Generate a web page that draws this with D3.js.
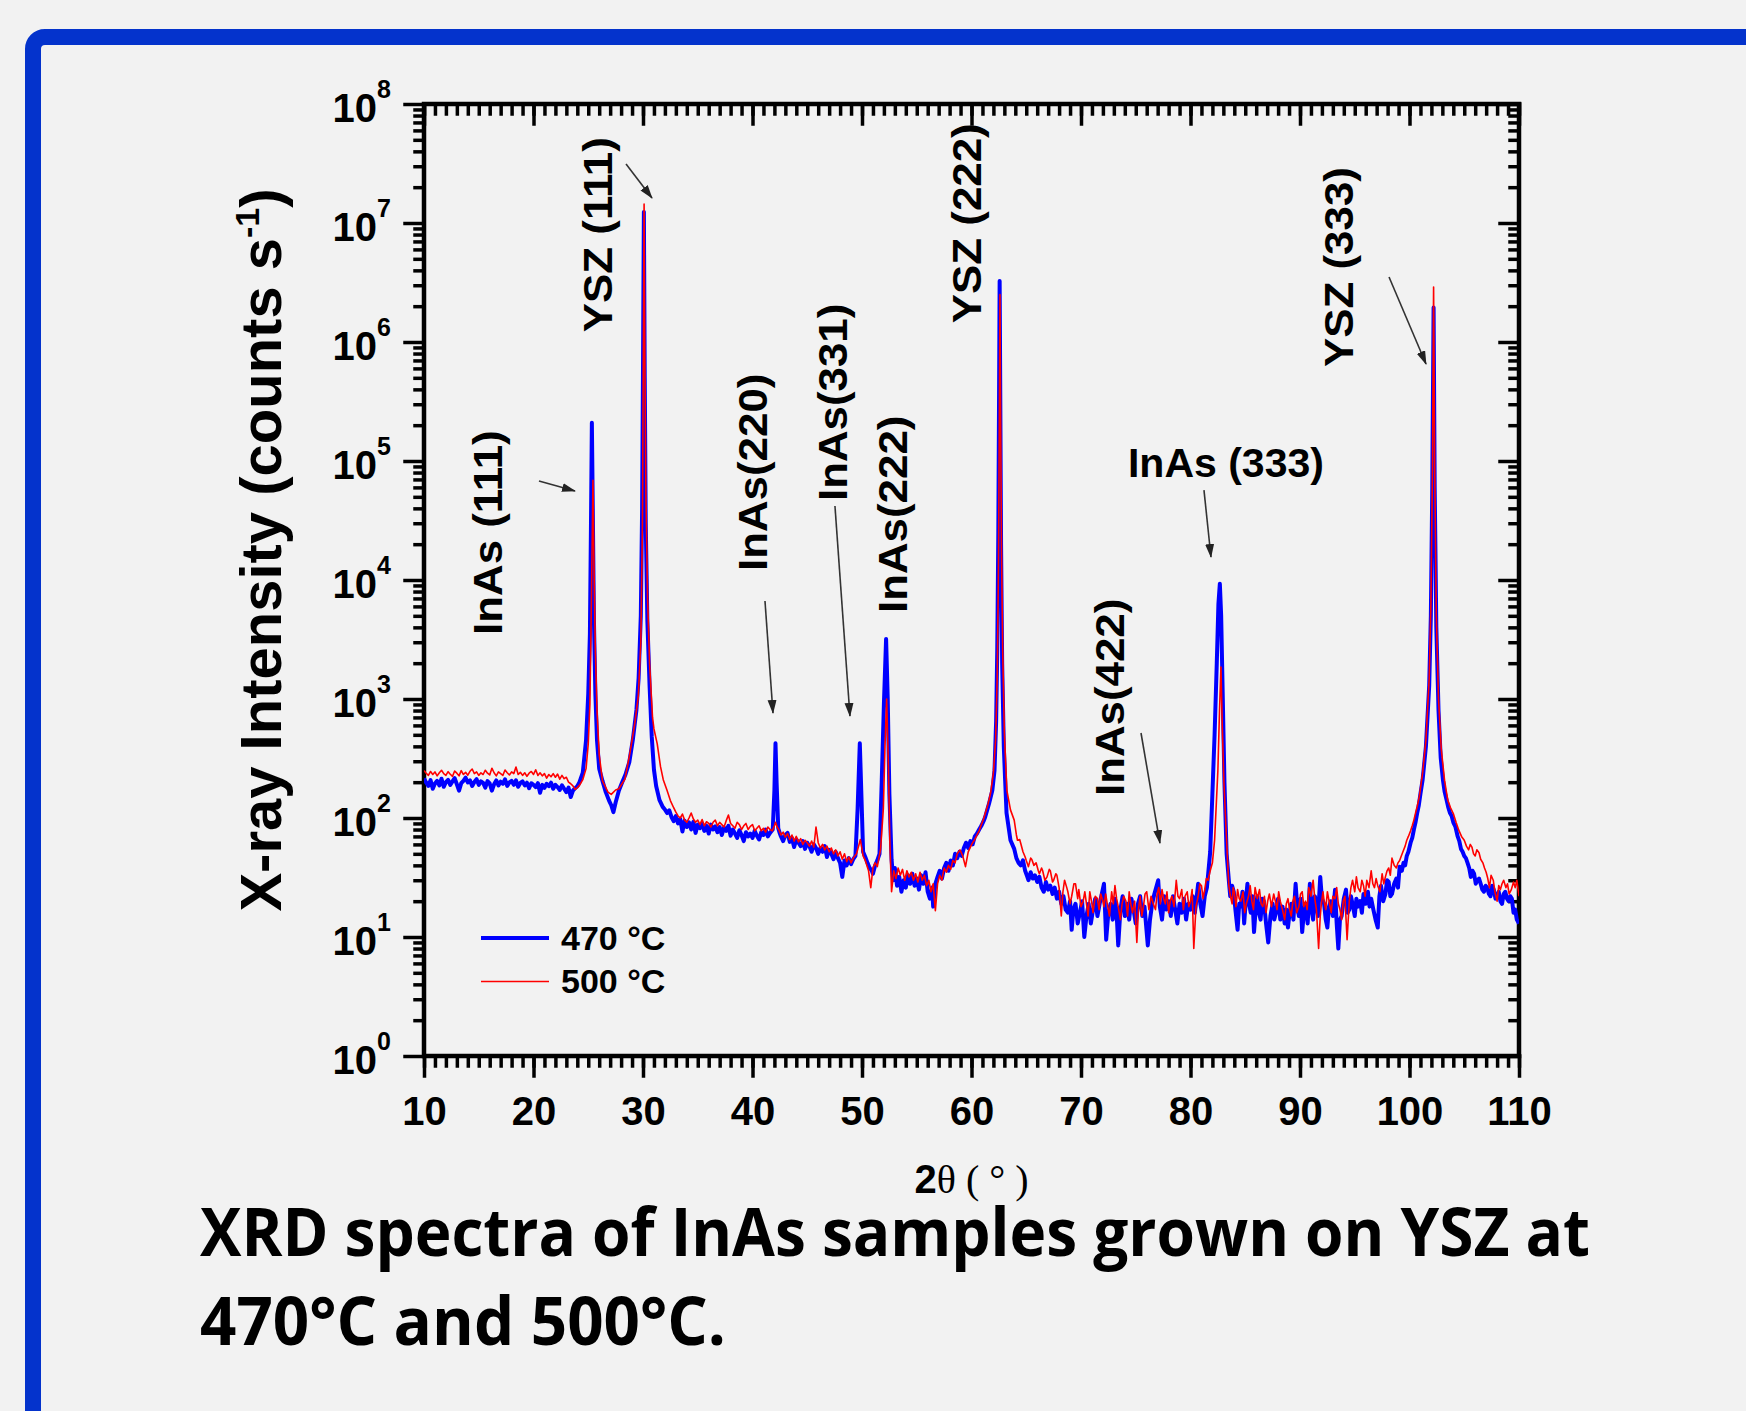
<!DOCTYPE html>
<html>
<head>
	<meta charset="utf-8">
	<title>XRD spectra of InAs on YSZ</title>
	<style>
		body { margin: 0; background: #f2f2f2; }
		svg text { font-family: "Liberation Sans", Arial, sans-serif; font-weight: bold; fill: #000; }
		.scan470 { fill: none; stroke: #0000ff; stroke-width: 4; stroke-linejoin: round; }
		.scan500 { fill: none; stroke: #ff0000; stroke-width: 1.6; stroke-linejoin: round; }
		.arrow { stroke: #333; stroke-width: 1.6; }
	</style>
</head>
<body>
	<svg id="chart" width="1746" height="1411"></svg>
<script src="https://d3js.org/d3.v7.min.js"></script>
<script>
	// 2theta (deg), counts per second
	let scan470 = [
		[10.0,215],[10.2,198],[10.4,186],[10.6,208],[10.8,176],[11.0,195],[11.2,205],[11.4,188],[11.6,214],[11.8,183],
		[12.0,200],[12.2,209],[12.4,190],[12.6,203],[12.8,216],[13.0,192],[13.2,170],[13.4,196],[13.6,205],[13.8,218],
		[14.0,199],[14.2,207],[14.4,186],[14.6,201],[14.8,212],[15.0,190],[15.2,203],[15.4,197],[15.6,180],[15.8,204],
		[16.0,195],[16.2,170],[16.4,192],[16.6,207],[16.8,188],[17.0,202],[17.2,194],[17.4,211],[17.6,186],[17.8,199],
		[18.0,205],[18.2,190],[18.4,207],[18.6,183],[18.8,197],[19.0,203],[19.2,188],[19.4,198],[19.6,178],[19.8,196],
		[20.0,190],[20.2,182],[20.4,196],[20.6,163],[20.8,190],[21.0,179],[21.2,194],[21.4,185],[21.6,198],[21.8,176],
		[22.0,190],[22.2,182],[22.4,172],[22.6,188],[22.8,176],[23.0,165],[23.2,180],[23.4,150],[23.6,170],[23.8,178],
		[24.0,185],[24.2,200],[24.5,240],[24.8,450],
		[25.0,1100],[25.15,3500],[25.25,30000],[25.33,210000],[25.42,35000],[25.52,4500],[25.65,1100],[25.8,450],[26.0,260],[26.3,205],
		[26.6,165],[26.9,140],[27.1,128],[27.3,112],[27.5,135],[27.8,170],[28.1,200],[28.4,232],[28.75,295],[29.08,460],
		[29.4,810],[29.6,1500],[29.8,5000],[29.92,40000],[30.0,600000],[30.08,12400000],[30.16,500000],[30.25,30000],[30.4,4500],[30.6,1300],
		[30.8,480],[31.0,255],[31.2,186],[31.5,142],[31.8,124],
		[32.0,118],[32.2,110],[32.4,116],[32.6,102],[32.8,94],[33.0,104],[33.2,90],[33.4,98],[33.6,77],[33.8,95],
		[34.0,84],[34.2,92],[34.4,80],[34.6,93],[34.8,75],[35.0,88],[35.2,82],[35.4,90],[35.6,78],[35.8,86],
		[36.0,74],[36.2,88],[36.4,80],[36.6,85],[36.8,76],[37.0,84],[37.2,72],[37.4,83],[37.6,78],[37.8,86],
		[38.0,71],[38.2,80],[38.4,74],[38.6,68],[38.8,79],[39.0,72],[39.2,64],[39.4,76],[39.6,70],[39.8,74],
		[40.0,68],[40.2,78],[40.4,71],[40.6,66],[40.8,76],[41.0,72],[41.2,80],[41.4,70],[41.6,75],[41.85,80],
		[42.0,170],[42.1,425],[42.2,200],[42.35,82],
		[42.5,74],[42.6,70],[42.8,64],[43.0,72],[43.2,75],[43.4,63],[43.6,68],[43.8,57],[44.0,66],[44.2,62],
		[44.4,58],[44.6,64],[44.8,55],[45.0,62],[45.2,58],[45.4,52],[45.6,60],[45.8,56],[46.0,50],[46.2,56],
		[46.4,52],[46.6,58],[46.8,47],[47.0,54],[47.2,50],[47.4,45],[47.6,52],[47.8,46],[48.0,42],[48.2,32],
		[48.4,44],[48.6,40],[48.8,46],[49.0,41],[49.2,45],[49.4,48],[49.6,120],[49.8,425],[49.95,150],[50.1,52],
		[50.3,47],[50.5,42],[50.7,38],[50.9,36],[51.0,34],[51.2,40],[51.4,44],[51.6,50],[51.8,200],[52.0,900],
		[52.2,3200],[52.35,1000],[52.5,160],
		[52.7,45],[52.85,30],[53.0,38],[53.2,27],[53.4,32],[53.6,24],[53.8,30],[54.0,26],[54.2,33],[54.4,28],
		[54.6,34],[54.8,27],[55.0,31],[55.2,25],[55.4,33],[55.6,28],[55.8,35],[56.0,24],[56.2,21],[56.4,26],
		[56.5,18],[56.7,28],[56.9,32],[57.1,36],[57.3,31],[57.5,38],[57.7,42],[57.9,36],[58.1,44],[58.3,40],
		[58.5,50],[58.7,46],[58.9,52],[59.1,48],[59.3,56],[59.5,62],[59.7,56],[59.9,64],[60.1,60],[60.3,70],
		[60.5,74],[60.7,80],[60.9,86],[61.1,94],[61.25,102],
		[61.6,132],[61.9,170],[62.1,250],[62.25,650],[62.35,2500],[62.45,25000],[62.52,400000],[62.57,3260000],[62.63,320000],[62.7,20000],
		[62.8,2000],[62.95,400],[63.07,210],[63.2,110],[63.56,65],
		[63.9,55],[64.1,46],[64.3,42],[64.5,40],[64.7,44],[64.9,36],[65.1,32],[65.2,30],[65.4,35],[65.6,31],
		[65.8,33],[66.0,29],[66.2,32],[66.4,26],[66.6,24],[66.8,29],[67.0,25],[67.2,27],[67.4,23],[67.6,26],
		[67.8,21],[68.0,24],[68.2,19],[68.4,22],[68.6,17],[68.8,16],[69.0,20],[69.15,11.5],[69.3,17],[69.5,19],
		[69.7,13],[69.9,16],[70.1,20],[70.3,10],[70.5,15],[70.7,19],[70.9,13],[71.1,17],[71.3,21],[71.5,15],
		[71.7,19],[71.9,23],[72.1,28],[72.3,9.5],[72.5,16],[72.7,19],[72.9,14],[73.1,21],[73.25,16],[73.4,8.5],
		[73.6,17],[73.8,22],[74.0,15],[74.2,19],[74.4,14],[74.6,21],[74.8,17],[75.0,13],[75.2,19],[75.4,22],
		[75.6,15],[75.8,18],[76.1,8.5],[76.3,14],[76.5,19],[76.7,23],[77.05,30],[77.2,18],[77.4,14],[77.6,22],
		[77.8,17],[78.0,20],[78.2,15],[78.4,22],[78.6,17],[78.8,13],[79.0,19],[79.2,16],[79.4,21],[79.6,14],
		[79.8,19],[80.0,17],[80.2,22],[80.4,16],[80.7,28],[80.9,19],[81.1,15],[81.3,22],[81.5,26],
		[81.8,52],[82.0,160],[82.2,500],[82.4,2000],[82.55,6300],[82.68,9300],[82.8,5000],[82.95,1000],[83.1,200],[83.3,50],
		[83.5,30],[83.63,22],[83.8,27],[83.95,24],[84.1,17],[84.3,11.5],[84.45,19],[84.6,18],[84.75,24],[84.9,13],
		[85.05,20],[85.2,28],[85.35,19],[85.5,16],[85.65,22],[85.8,11],[85.95,17],[86.1,22],[86.25,16],[86.4,14],
		[86.55,21],[86.7,20],[86.9,13],[87.1,9],[87.3,15],[87.5,19],[87.65,14],[87.8,16],[88.0,21],[88.2,14],
		[88.4,18],[88.6,13],[88.75,17],[88.9,12],[89.05,16],[89.2,19],[89.4,14],[89.6,28],[89.75,18],[89.9,15],
		[90.05,21],[90.2,11],[90.35,16],[90.5,19],[90.7,13],[90.9,28],[91.05,17],[91.2,14],[91.35,22],[91.5,20],
		[91.65,15],[91.85,32],[92.0,21],[92.2,19],[92.35,14],[92.5,12],[92.65,18],[92.8,20],[93.0,15],[93.2,25],
		[93.35,13],[93.5,8],[93.65,14],[93.8,15],[94.0,21],[94.2,25],[94.35,16],[94.5,17],[94.65,22],[94.8,19],
		[95.0,15],[95.15,21],[95.3,18],[95.5,20],[95.65,16],[95.8,23],[96.0,19],[96.2,24],[96.35,18],[96.5,21],
		[96.7,17],[96.9,14],[97.1,12],[97.25,22],[97.4,27],[97.6,20],[97.8,23],[97.95,30],[98.1,29],[98.25,22],
		[98.4,23],[98.6,28],[98.8,31],[98.95,26],[99.1,39],[99.3,36],[99.45,42],[99.6,40],[99.75,48],[99.9,52],
		[100.1,62],[100.25,68],[100.4,80],[100.55,92],[100.7,110],[100.85,128],[101.0,160],[101.2,210],[101.5,400],[101.8,1300],
		[101.95,5000],[102.08,60000],[102.2,1950000],[102.3,60000],[102.45,4000],[102.65,800],[102.85,320],[103.05,210],[103.2,168],[103.4,140],
		[103.55,122],[103.7,110],[103.85,104],[104.0,92],[104.2,84],[104.4,70],[104.55,64],[104.7,55],[104.85,52],[105.0,48],
		[105.15,46],[105.3,42],[105.45,38],[105.6,32],[105.75,36],[105.9,34],[106.05,28],[106.2,30],[106.35,31],[106.5,28],
		[106.65,25],[106.8,24],[106.95,27],[107.1,26],[107.25,23],[107.4,22],[107.55,27],[107.7,25],[107.85,21],[108.0,22],
		[108.15,24],[108.3,20],[108.45,19],[108.6,23],[108.75,24],[108.9,21],[109.05,20],[109.2,22],[109.35,21],[109.5,16],
		[109.65,17],[109.8,14],[110.0,13]
	]

	let scan500 = [
		[10.0,250],[10.2,238],[10.4,228],[10.6,246],[10.8,232],[11.0,244],[11.2,226],[11.4,240],[11.6,252],[11.8,236],
		[12.0,228],[12.2,245],[12.4,233],[12.6,224],[12.8,248],[13.0,238],[13.2,226],[13.4,250],[13.6,232],[13.8,242],
		[14.0,229],[14.2,247],[14.4,258],[14.6,236],[14.8,244],[15.0,228],[15.2,240],[15.4,232],[15.6,252],[15.8,238],
		[16.0,230],[16.2,262],[16.4,240],[16.6,226],[16.8,244],[17.0,236],[17.2,228],[17.4,253],[17.6,240],[17.8,230],
		[18.0,244],[18.2,236],[18.4,268],[18.6,232],[18.8,242],[19.0,228],[19.2,240],[19.4,224],[19.6,238],[19.8,246],
		[20.0,232],[20.2,254],[20.4,228],[20.6,240],[20.8,226],[21.0,236],[21.2,216],[21.4,232],[21.6,222],[21.8,236],
		[22.0,220],[22.2,234],[22.4,212],[22.6,228],[22.8,214],[23.0,220],[23.2,200],[23.4,194],[23.6,186],[23.8,174],
		[24.0,180],[24.2,188],[24.5,210],[24.8,260],
		[25.0,420],[25.15,900],[25.3,8000],[25.43,69000],[25.53,12000],[25.65,2500],[25.8,800],[26.0,340],[26.3,205],[26.6,180],
		[26.8,165],[27.1,158],[27.5,172],[27.8,176],[28.1,195],[28.35,212],[28.75,330],[29.0,450],[29.25,625],[29.57,1050],
		[29.8,3000],[29.95,30000],[30.03,800000],[30.1,14400000],[30.17,700000],[30.27,50000],[30.42,7000],[30.6,2000],[30.87,700],[31.0,560],
		[31.3,420],[31.6,270],[31.85,210],[32.2,170],[32.5,140],
		[32.8,122],[33.0,112],[33.2,104],[33.4,100],[33.6,108],[33.8,96],[34.0,92],[34.2,100],[34.4,110],[34.6,98],
		[34.8,92],[35.0,96],[35.2,88],[35.4,97],[35.6,86],[35.8,93],[36.0,90],[36.2,84],[36.4,92],[36.6,96],
		[36.8,86],[37.0,92],[37.2,88],[37.4,84],[37.6,95],[37.8,106],[38.0,90],[38.2,86],[38.4,82],[38.6,92],
		[38.8,88],[39.0,80],[39.2,86],[39.4,90],[39.6,80],[39.8,85],[40.0,88],[40.2,78],[40.4,82],[40.6,86],
		[40.8,78],[41.0,82],[41.2,76],[41.4,84],[41.6,80],[41.8,78],[42.0,86],[42.1,92],[42.25,84],
		[42.4,80],[42.6,72],[42.8,76],[43.0,69],[43.2,74],[43.4,66],[43.6,72],[43.8,64],[44.0,70],[44.2,63],
		[44.4,67],[44.6,60],[44.8,65],[45.0,62],[45.2,58],[45.4,64],[45.6,57],[45.8,84],[46.0,62],[46.2,56],
		[46.4,60],[46.6,54],[46.8,58],[47.0,52],[47.2,56],[47.4,50],[47.6,54],[47.8,48],[48.0,52],[48.2,45],
		[48.4,50],[48.6,43],[48.8,47],[49.0,42],[49.2,46],[49.5,50],[49.85,66],[50.1,48],[50.3,44],[50.4,41],
		[50.6,36],[50.8,26],[51.0,38],[51.2,42],[51.4,39],[51.7,55],[51.95,120],[52.1,400],[52.25,1000],[52.4,300],
		[52.55,60],[52.7,24],
		[52.9,36],[53.1,31],[53.3,38],[53.5,33],[53.7,37],[53.9,30],[54.1,36],[54.3,32],[54.5,35],[54.7,30],
		[54.9,34],[55.1,29],[55.3,35],[55.5,30],[55.7,33],[55.9,27],[56.1,30],[56.3,24],[56.5,28],[56.7,16.6],
		[56.9,28],[57.1,33],[57.3,30],[57.5,38],[57.7,35],[57.9,40],[58.1,37],[58.3,44],[58.5,42],[58.7,50],
		[58.95,54],[59.2,48],[59.45,39],[59.7,52],[59.9,57],[60.1,62],[60.3,66],[60.5,72],[60.7,78],[60.9,88],
		[61.1,98],[61.25,109],[61.5,130],[61.75,163],
		[62.0,240],[62.2,450],[62.35,1500],[62.47,15000],[62.55,300000],[62.6,2500000],[62.66,250000],[62.74,18000],[62.85,2500],[63.0,520],
		[63.23,171],[63.56,117],[63.9,96],
		[64.1,72],[64.2,65],[64.4,66],[64.5,61],[64.7,52],[64.9,47],[65.0,44],[65.2,39],[65.4,46],[65.5,45],
		[65.7,40],[65.9,42],[66.1,36],[66.2,34],[66.4,38],[66.5,36],[66.7,30],[66.9,32],[67.1,37],[67.2,36],
		[67.4,29],[67.5,30],[67.7,34],[67.8,33],[68.0,26],[68.2,15],[68.35,24],[68.5,30],[68.7,26],[68.8,24],
		[69.0,19],[69.15,22],[69.35,28],[69.5,28],[69.7,21],[69.8,25],[70.0,18],[70.2,20],[70.35,24],[70.5,19],
		[70.65,15],[70.8,24],[71.0,19],[71.1,16],[71.3,22],[71.5,21],[71.65,17],[71.8,23],[72.0,20],[72.1,18],
		[72.25,23],[72.4,19],[72.6,15],[72.8,24],[72.95,19],[73.1,27],[73.25,21],[73.4,18],[73.6,14],[73.75,19],
		[73.9,22],[74.1,20],[74.25,15],[74.4,24],[74.55,19],[74.7,16],[74.9,20],[75.1,9],[75.25,17],[75.4,22],
		[75.55,15],[75.7,18],[75.85,23],[76.0,24],[76.2,17],[76.4,22],[76.6,19],[76.8,17],[76.95,23],[77.1,26],
		[77.25,19],[77.4,25],[77.55,21],[77.7,19],[77.85,24],[78.0,16],[78.15,20],[78.3,22],[78.5,18],[78.7,30],
		[78.85,22],[79.0,21],[79.2,25],[79.35,17],[79.5,22],[79.7,24],[79.85,18],[80.0,20],[80.15,25],[80.3,8],
		[80.5,18],[80.7,22],[80.85,28],[81.0,27],[81.15,21],[81.3,25],[81.45,31],[81.6,30],[81.8,36],
		[82.0,42],[82.2,65],[82.5,250],[82.65,800],[82.78,1860],[82.9,600],[83.05,200],[83.25,80],
		[83.5,27],[83.65,22],[83.8,19],[83.9,26],[84.0,24],[84.15,18],[84.3,25],[84.45,21],[84.6,20],[84.8,24],
		[84.95,16],[85.1,19],[85.3,22],[85.45,27],[85.6,20],[85.75,17],[85.9,26],[86.1,21],[86.3,25],[86.45,19],
		[86.6,18],[86.75,22],[86.9,16],[87.05,20],[87.2,23],[87.4,18],[87.6,23],[87.75,20],[87.9,17],[88.05,24],
		[88.2,20],[88.4,17],[88.6,14],[88.75,19],[88.9,21],[89.05,17],[89.2,15],[89.35,20],[89.5,22],[89.7,16],
		[89.9,18],[90.05,23],[90.2,24],[90.35,18],[90.5,20],[90.65,17],[90.8,26],[91.0,22],[91.2,30],[91.35,21],
		[91.5,17],[91.7,8],[91.85,15],[91.95,19],[92.1,24],[92.2,20],[92.35,17],[92.5,24],[92.7,19],[92.85,16],
		[93.0,22],[93.2,21],[93.35,26],[93.5,19],[93.65,17],[93.8,14],[93.95,20],[94.1,22],[94.3,9.5],[94.5,20],
		[94.65,26],[94.8,30],[95.0,24],[95.15,32],[95.3,26],[95.5,24],[95.65,30],[95.8,27],[95.95,22],[96.1,30],
		[96.3,26],[96.5,36],[96.65,28],[96.8,26],[96.95,31],[97.1,27],[97.3,24],[97.5,34],[97.65,28],[97.8,32],
		[97.95,36],[98.1,38],[98.25,33],[98.4,46],[98.6,40],[98.8,38],[98.95,42],[99.1,44],[99.25,48],[99.4,52],
		[99.6,58],[99.75,65],[99.9,70],[100.1,78],[100.25,86],[100.4,96],[100.55,110],[100.7,125],[100.9,152],[101.2,240],
		[101.5,450],[101.8,1500],[101.95,6000],[102.1,90000],[102.2,2900000],[102.3,90000],[102.45,5000],[102.65,1000],[102.9,380],[103.2,208],
		[103.35,170],[103.5,141],[103.75,122],[104.0,109],[104.25,92],[104.5,79],[104.75,70],[105.0,65],[105.2,58],[105.4,54],
		[105.55,60],[105.7,57],[105.85,50],[106.0,48],[106.15,54],[106.35,51],[106.5,45],[106.7,42],[106.85,38],[107.0,35],
		[107.15,31],[107.3,26],[107.45,33],[107.65,30],[107.8,24],[108.0,20],[108.15,27],[108.3,25],[108.45,28],[108.6,30],
		[108.8,26],[108.95,28],[109.1,23],[109.3,25],[109.5,29],[109.65,26],[109.8,30],[110.0,22]
	]

	let xTickValues = [10, 20, 30, 40, 50, 60, 70, 80, 90, 100, 110]
	let yTickExponents = [0, 1, 2, 3, 4, 5, 6, 7, 8]
	let seriesNames = ["470 °C", "500 °C"]

	// peak labels: text anchor [2theta, counts], arrow from -> to
	let peakLabels = [
		{ text: "InAs (111)", at: [17.12, 3.45e3], rotate: true, from: [20.5, 6.8e4], to: [23.79, 5.6e4] },
		{ text: "YSZ (111)", at: [27.17, 1.21e6], rotate: true, from: [28.45, 3.13e7], to: [30.82, 1.62e7] },
		{ text: "InAs(220)", at: [41.32, 1.19e4], rotate: true, from: [41.14, 6660], to: [41.87, 763] },
		{ text: "InAs(331)", at: [48.63, 4.61e4], rotate: true, from: [47.53, 4.19e4], to: [48.9, 720] },
		{ text: "InAs(222)", at: [54.11, 5.28e3], rotate: true },
		{ text: "YSZ (222)", at: [60.87, 1.44e6], rotate: true },
		{ text: "InAs(422)", at: [73.93, 153], rotate: true, from: [75.48, 518], to: [77.21, 61.6] },
		{ text: "InAs (333)", at: [74.29, 7.34e4], rotate: false, from: [81.23, 5.7e4], to: [81.87, 1.56e4] },
		{ text: "YSZ (333)", at: [94.84, 6.17e5], rotate: true, from: [98.13, 3.52e6], to: [101.51, 6.53e5] }
	]

	let svg = d3.select("#chart")
	let plotLeft = 424, plotRight = 1519, plotTop = 104, plotBottom = 1056

	let x = d3.scaleLinear().domain([10, 110]).range([plotLeft, plotRight])
	let y = d3.scaleLog().domain([1, 1e8]).range([plotBottom, plotTop])

	// blue slide frame
	svg.append("rect")
		.attr("x", 33).attr("y", 37)
		.attr("width", 1800).attr("height", 1500)
		.attr("rx", 12)
		.attr("fill", "none")
		.attr("stroke", "#0433cc")
		.attr("stroke-width", 16)

	let defs = svg.append("defs")
	defs.append("clipPath").attr("id", "plotClip")
		.append("rect")
		.attr("x", plotLeft).attr("y", plotTop)
		.attr("width", plotRight - plotLeft).attr("height", plotBottom - plotTop)
	defs.append("marker")
		.attr("id", "head")
		.attr("markerUnits", "userSpaceOnUse")
		.attr("markerWidth", 14).attr("markerHeight", 10)
		.attr("refX", 13).attr("refY", 4.5)
		.attr("orient", "auto")
		.append("path")
		.attr("d", "M0,0 L14,4.5 L0,9 Z")
		.attr("fill", "#222")

	// ticks
	let yMajor = yTickExponents.map(e => Math.pow(10, e))
	let yMinor = []
	yTickExponents.slice(0, -1).forEach(e => {
		for (let k = 2; k < 10; k++) yMinor.push(k * Math.pow(10, e))
	})
	let xMinor = d3.range(10, 111, 1)

	function tickStyle(g) {
		g.select(".domain").remove()
		g.selectAll(".tick line").attr("stroke-width", 3.5).attr("stroke-linecap", "square")
	}

	svg.append("g").attr("transform", `translate(0,${plotBottom})`)
		.call(d3.axisBottom(x).tickValues(xMinor).tickSize(10).tickFormat(""))
		.call(tickStyle)
	svg.append("g").attr("transform", `translate(0,${plotTop})`)
		.call(d3.axisBottom(x).tickValues(xMinor).tickSize(10).tickFormat(""))
		.call(tickStyle)
	svg.append("g").attr("transform", `translate(0,${plotTop})`)
		.call(d3.axisBottom(x).tickValues(xTickValues).tickSize(20).tickFormat(""))
		.call(tickStyle)
	let xAxis = svg.append("g").attr("transform", `translate(0,${plotBottom})`)
		.call(d3.axisBottom(x).tickValues(xTickValues).tickSize(20).tickPadding(21).tickFormat(d => d))
		.call(tickStyle)
	xAxis.selectAll("text")
		.attr("font-size", 40)
		.attr("font-family", "'Liberation Sans', Arial, sans-serif")

	svg.append("g").attr("transform", `translate(${plotLeft},0)`)
		.call(d3.axisLeft(y).tickValues(yMinor).tickSize(9).tickFormat(""))
		.call(tickStyle)
	svg.append("g").attr("transform", `translate(${plotLeft},0)`)
		.call(d3.axisLeft(y).tickValues(yMajor).tickSize(19).tickFormat(""))
		.call(tickStyle)
	svg.append("g").attr("transform", `translate(${plotRight},0)`)
		.call(d3.axisLeft(y).tickValues(yMinor).tickSize(9).tickFormat(""))
		.call(tickStyle)
	svg.append("g").attr("transform", `translate(${plotRight},0)`)
		.call(d3.axisLeft(y).tickValues(yMajor).tickSize(19).tickFormat(""))
		.call(tickStyle)

	// y tick labels 10^n
	let yLabels = svg.append("g").selectAll("text")
		.data(yTickExponents)
		.enter()
		.append("text")
		.attr("x", 391)
		.attr("y", e => y(Math.pow(10, e)) + 18)
		.attr("text-anchor", "end")
		.attr("font-size", 40)
	yLabels.append("tspan").text("10")
	yLabels.append("tspan").attr("dy", -24).attr("font-size", 25).text(e => e)

	// frame
	svg.append("rect")
		.attr("x", plotLeft).attr("y", plotTop)
		.attr("width", plotRight - plotLeft).attr("height", plotBottom - plotTop)
		.attr("fill", "none")
		.attr("stroke", "#000")
		.attr("stroke-width", 4.5)

	// spectra
	let line = d3.line()
		.x(d => x(d[0]))
		.y(d => y(d[1]))

	let plot = svg.append("g").attr("clip-path", "url(#plotClip)")
	plot.append("path").datum(scan470).attr("class", "scan470").attr("d", line)
	plot.append("path").datum(scan500).attr("class", "scan500").attr("d", line)

	// peak labels and arrows
	peakLabels.forEach(p => {
		let px = x(p.at[0]), py = y(p.at[1])
		svg.append("text")
			.attr("transform", p.rotate ? `translate(${px},${py}) rotate(-90) scale(1.07,1)` : `translate(${px},${py})`)
			.attr("font-size", 41)
			.text(p.text)
		if (p.from) {
			svg.append("line")
				.attr("class", "arrow")
				.attr("x1", x(p.from[0])).attr("y1", y(p.from[1]))
				.attr("x2", x(p.to[0])).attr("y2", y(p.to[1]))
				.attr("marker-end", "url(#head)")
		}
	})

	// legend
	let legend = svg.append("g").attr("transform", "translate(481,938)")
	let legendRows = legend.selectAll("g")
		.data(seriesNames)
		.enter()
		.append("g")
		.attr("transform", (d, i) => `translate(0,${i * 43.5})`)
	legendRows.append("line")
		.attr("x1", 0).attr("x2", 68)
		.attr("class", (d, i) => i == 0 ? "scan470" : "scan500")
	legendRows.append("text")
		.attr("x", 80).attr("y", 11.5)
		.attr("font-size", 34)
		.text(d => d)

	// axis titles
	let xTitle = svg.append("text")
		.attr("x", (plotLeft + plotRight) / 2)
		.attr("y", 1193)
		.attr("text-anchor", "middle")
		.attr("font-size", 40)
	xTitle.append("tspan").text("2")
	xTitle.append("tspan")
		.style("font-family", "'Liberation Serif', 'Times New Roman', serif")
		.style("font-weight", "normal")
		.text("θ ( ° )")

	let yTitle = svg.append("text")
		.attr("transform", "translate(281,550) rotate(-90)")
		.attr("text-anchor", "middle")
		.attr("font-size", 58)
	yTitle.append("tspan").text("X-ray Intensity (counts s")
	yTitle.append("tspan").attr("dy", -22).attr("font-size", 34).text("-1")
	yTitle.append("tspan").attr("dy", 22).text(")")

	// caption
	let caption = [
		{ text: "XRD spectra of InAs samples grown on YSZ at", y: 1256, w: 1390 },
		{ text: "470°C and 500°C.", y: 1345, w: 526 }
	]
	svg.selectAll(".caption")
		.data(caption)
		.enter()
		.append("text")
		.attr("class", "caption")
		.attr("x", 200)
		.attr("y", d => d.y)
		.attr("textLength", d => d.w)
		.attr("lengthAdjust", "spacingAndGlyphs")
		.style("font-family", "'Open Sans', 'Noto Sans', sans-serif")
		.attr("font-size", 66)
		.text(d => d.text)
</script>
</body>
</html>
